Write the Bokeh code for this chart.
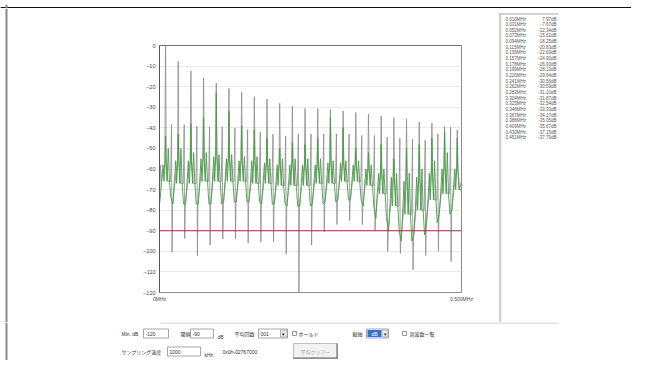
from bokeh.plotting import figure
from bokeh.models import Range1d, FixedTicker, Span, Label
from bokeh.layouts import row, column
from bokeh.embed import file_html
from bokeh.resources import INLINE

# ---------------- data ----------------
harmonic_mhz = [0.010, 0.031, 0.052, 0.073, 0.094, 0.115, 0.136, 0.157, 0.178, 0.199,
                0.220, 0.241, 0.262, 0.283, 0.304, 0.325, 0.346, 0.367, 0.388, 0.409,
                0.430, 0.451, 0.472, 0.493]
hold_peak_db = [7.97, -7.67, -12.34, -15.62, -18.25, -20.83, -22.69, -24.90, -26.00, -28.13,
                -29.64, -30.56, -30.59, -31.10, -31.87, -32.54, -33.33, -34.17, -35.05, -35.67,
                -37.15, -37.70, -39.40, -41.00]
midpoint_mhz = [0.0205, 0.0415, 0.0625, 0.0835, 0.1045, 0.1255, 0.1465, 0.1675, 0.1885, 0.2095,
                0.2305, 0.2515, 0.2725, 0.2935, 0.3145, 0.3355, 0.3565, 0.3775, 0.3985, 0.4195,
                0.4405, 0.4615, 0.4825]
hold_side_db = [-38.5, -38.5, -39.2, -39.5, -39.5, -40.0, -40.8, -42.0, -43.0, -44.0,
                -43.0, -43.0, -43.0, -43.0, -43.0, -43.7, -43.7, -44.5, -45.0, -45.5,
                -46.0, -43.0, -39.7]
hold_dip_db = [-100.4, -93.8, -102.0, -97.0, -94.0, -94.0, -96.0, -95.5, -95.5, -101.4,
               -130.0, -97.0, -90.5, -87.0, -85.0, -87.0, -90.0, -100.0, -101.0, -109.0,
               -102.0, -100.0, -105.0]
live_peak_db = [-44, -43, -38, -35, -23, -32, -39, -41, -45, -50,
                -47, -48, -45, -35, -40, -50, -52, -48, -55, -50,
                -48, -45, -42, -45]
live_side_db = [-50, -50, -52, -52, -53, -53, -54, -54, -55, -55,
                -55, -55, -55, -56, -56, -56, -58, -60, -62, -62,
                -60, -56, -52]
live_shoulder_db = [-58, -56, -56, -55, -54, -55, -56, -56, -57, -58,
                    -58, -58, -58, -57, -57, -58, -60, -62, -64, -66,
                    -64, -62, -60, -60]
live_mid_db = [-66, -67, -67, -66, -66, -66, -66, -67, -67, -68,
               -68, -68, -67, -67, -66, -66, -68, -72, -78, -82,
               -80, -75, -72, -70]
live_low_db = [-74, -77, -77, -77, -77, -76, -76, -76, -77, -77,
               -78, -78, -77, -76, -75, -75, -78, -84, -90, -95,
               -92, -86, -82, -80]
start_hold_mhz = [0.000, 0.0012, 0.0030, 0.0055]
start_hold_db = [-75, -58, -66, -62]
start_live_mhz = [0.000]
start_live_db = [-77]
end_hold_mhz = [0.5010]
end_hold_db = [-64]
threshold_db = -90
y_ticks = [0, -10, -20, -30, -40, -50, -60, -70, -80, -90, -100, -110, -120]
x_ticks = [0, 0.5]
x_tick_labels = {0: "0MHz", 0.5: "0.500MHz"}
list_count = 22

# ---------------- build traces ----------------
hx, hy = list(start_hold_mhz), list(start_hold_db)
for k, f in enumerate(harmonic_mhz):
    hx += [f - 0.0012, f, f + 0.0012, f + 0.004]
    hy += [live_shoulder_db[k], hold_peak_db[k], live_shoulder_db[k], live_mid_db[k]]
    if k < len(midpoint_mhz):
        m = midpoint_mhz[k]
        hx += [m - 0.0022, m - 0.0006, m - 0.0001, m + 0.0003, m + 0.0012, m + 0.005]
        hy += [live_mid_db[k], hold_side_db[k], live_low_db[k], hold_dip_db[k],
               live_low_db[k + 1], live_mid_db[k + 1]]
hx += end_hold_mhz
hy += end_hold_db

lx, ly = list(start_live_mhz), list(start_live_db)
for k, f in enumerate(harmonic_mhz):
    side = live_side_db[k] if k < len(live_side_db) else live_mid_db[k]
    lo, mi, sh = live_low_db[k], live_mid_db[k], live_shoulder_db[k]
    lx += [f - 0.0088, f - 0.0065, f - 0.0042, f - 0.0026, f - 0.0009, f,
           f + 0.0009, f + 0.0026, f + 0.0045, f + 0.0065, f + 0.0088]
    ly += [lo, mi, sh, mi, sh, live_peak_db[k], sh, mi, side, mi, lo]

LAT = "Liberation Sans"
JP = "Noto Sans CJK JP"

# ---------------- main chart (page region x 8..498, y 8..322) ----------------
p = figure(width=490, height=314, x_range=Range1d(0, 0.5), y_range=Range1d(-120, 0),
           output_backend="svg", toolbar_location=None, frame_align=False,
           min_border_left=151, min_border_right=37, min_border_top=37, min_border_bottom=30)
p.background_fill_color = "white"
p.border_fill_color = "white"
p.outline_line_color = "#8c8c8c"

p.xaxis.ticker = FixedTicker(ticks=x_ticks)
p.xaxis.major_label_overrides = x_tick_labels
p.xaxis.axis_line_color = None
p.xaxis.major_tick_line_color = None
p.xaxis.minor_tick_line_color = None
p.xaxis.major_tick_out = 0
p.xaxis.major_tick_in = 0
p.xaxis.minor_tick_out = 0
p.xaxis.major_label_text_font_size = "5px"
p.xaxis.major_label_text_font = LAT
p.xaxis.major_label_text_color = "#444444"
p.xaxis.major_label_standoff = 3

p.yaxis.ticker = FixedTicker(ticks=y_ticks)
p.yaxis.axis_line_color = "#555555"
p.yaxis.major_tick_line_color = None
p.yaxis.minor_tick_line_color = None
p.yaxis.major_tick_out = 0
p.yaxis.major_tick_in = 0
p.yaxis.minor_tick_out = 0
p.yaxis.major_label_text_font_size = "5.5px"
p.yaxis.major_label_text_font = LAT
p.yaxis.major_label_text_color = "#444444"
p.yaxis.major_label_standoff = 4

p.xgrid.grid_line_color = None
p.ygrid.ticker = FixedTicker(ticks=y_ticks)
p.ygrid.grid_line_color = "#e9e9e9"

p.line(hx, hy, line_color="#8a8a8a", line_width=0.8)
p.line(lx, ly, line_color="#4a9a4a", line_width=0.9)
p.add_layout(Span(location=threshold_db, dimension="width", line_color="#8b3b3b", line_width=1))
p.add_layout(Span(location=0, dimension="width", line_color="#555555", line_width=1))


# ---------------- window decoration panels (data units = page pixels) ----------------
def deco(x0, y0, x1, y1):
    f = figure(width=x1 - x0, height=y1 - y0, x_range=Range1d(x0, x1), y_range=Range1d(y1, y0),
               output_backend="svg", toolbar_location=None, frame_align=False,
               x_axis_location=None, y_axis_location=None, min_border=0)
    f.outline_line_color = None
    f.grid.visible = False
    f.background_fill_color = "white"
    f.border_fill_color = "white"
    return f


def box(f, x0, y0, x1, y1, fill, line=None, lw=0.8):
    f.quad(left=[x0], right=[x1], top=[y0], bottom=[y1], fill_color=fill,
           line_color=line, line_width=lw)


def txt(f, x, y, s, size="5px", color="#333333", font=JP, align="left"):
    f.add_layout(Label(x=x, y=y, text=s, text_font_size=size, text_color=color,
                       text_font=font, text_baseline="middle", text_align=align))


top = deco(0, 0, 631, 8)
box(top, 0, 2.5, 631, 4, "#111111")
box(top, 5, 0, 7, 8, "#8a8a8a")

left = deco(0, 8, 8, 322)
box(left, 5, 8, 7, 322, "#8a8a8a")

right = deco(498, 8, 631, 322)
box(right, 499, 13, 500, 322, "#a0a0a0")
box(right, 500, 13, 501, 322, "#dcdcdc")
box(right, 499, 13, 558, 14, "#a8a8a8")
for i in range(list_count):
    yy = 18.5 + 5.65 * i
    txt(right, 505, yy, "%.3fMHz" % harmonic_mhz[i], size="4.5px", color="#555555", font=LAT)
    txt(right, 556, yy, "%.2fdB" % hold_peak_db[i], size="4.5px", color="#555555",
        font=LAT, align="right")

bot = deco(0, 322, 631, 360)
box(bot, 5, 322, 7, 360, "#8a8a8a")
box(bot, 160, 322, 558, 323, "#c8c8c8")
# row 1
txt(bot, 121, 333, "Min. dB", font=LAT)
box(bot, 143, 328.5, 168, 337.5, "white", "#909090")
txt(bot, 145, 333, "-120", font=LAT)
txt(bot, 180, 333, "閾値")
box(bot, 190, 328.5, 213, 337.5, "white", "#909090")
txt(bot, 192, 333, "-90", font=LAT)
txt(bot, 217, 336, "dB", font=LAT)
txt(bot, 234, 333, "平均回数")
box(bot, 258, 328.5, 287, 337.5, "white", "#909090")
txt(bot, 260, 333, "001", font=LAT)
box(bot, 280, 329.5, 286.5, 336.5, "#eeeeee", "#a0a0a0")
txt(bot, 283.2, 333, "▾", font=LAT, align="center", color="#222222")
box(bot, 292, 331, 296, 335, "white", "#808080")
txt(bot, 298, 333, "ホールド")
txt(bot, 352, 333, "縦軸")
box(bot, 366, 328.5, 388, 337.5, "white", "#909090")
box(bot, 367, 329.5, 381, 336.5, "#3a6fc4")
txt(bot, 374, 333, "dB", font=LAT, color="white", align="center")
box(bot, 381.5, 329.5, 387.5, 336.5, "#eeeeee", "#a0a0a0")
txt(bot, 384.5, 333, "▾", font=LAT, align="center", color="#222222")
box(bot, 402, 331, 406, 335, "white", "#808080")
txt(bot, 409, 333, "周波数一覧")
# row 2
txt(bot, 121, 351, "サンプリング速度")
box(bot, 167, 346.5, 200, 355.5, "white", "#909090")
txt(bot, 169, 351, "1000", font=LAT)
txt(bot, 204, 354, "kHz", font=LAT)
txt(bot, 222, 351, "0x0h-02767000", font=LAT)
box(bot, 293, 343, 337, 358, "#f2f2f2", "#b0b0b0")
box(bot, 336, 343, 337, 358, "#606060")
box(bot, 293, 357, 337, 358, "#606060")
txt(bot, 300, 350.5, "平均クリアー", color="#a8a8a8")

root = column(top, row(left, p, right, spacing=0), bot, spacing=0)

open("out.html", "w").write(file_html(root, INLINE))
